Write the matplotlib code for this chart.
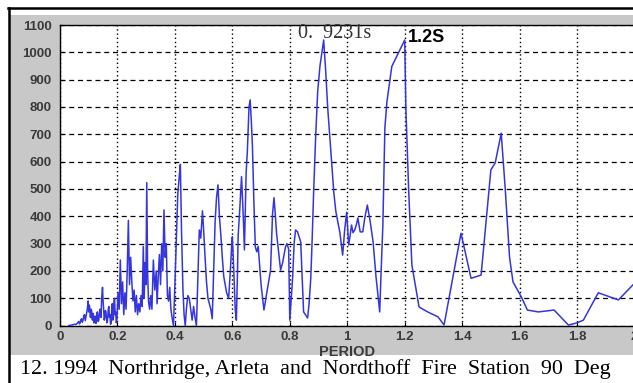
import matplotlib
matplotlib.use("Agg")
import matplotlib.pyplot as plt
from matplotlib.patches import Rectangle
from matplotlib.lines import Line2D

period = [0.030, 0.035, 0.040, 0.045, 0.050, 0.055, 0.060, 0.063, 0.065, 0.068,
          0.070, 0.072, 0.075, 0.078, 0.080, 0.083, 0.085, 0.088, 0.090, 0.093,
          0.095, 0.098, 0.100, 0.102, 0.103, 0.105, 0.106, 0.108, 0.110, 0.112,
          0.113, 0.115, 0.116, 0.118, 0.120, 0.122, 0.123, 0.125, 0.126, 0.128,
          0.130, 0.133, 0.135, 0.138, 0.140, 0.143, 0.145, 0.148, 0.150, 0.152,
          0.154, 0.156, 0.158, 0.160, 0.163, 0.165, 0.168, 0.170, 0.172, 0.174,
          0.176, 0.178, 0.180, 0.182, 0.184, 0.186, 0.188, 0.190, 0.192, 0.194,
          0.196, 0.198,
          0.202, 0.206,
          0.210, 0.214, 0.218, 0.222, 0.226, 0.230, 0.234, 0.238, 0.242, 0.246,
          0.250, 0.254, 0.258, 0.262, 0.266, 0.270, 0.274, 0.278, 0.282, 0.286,
          0.290, 0.293, 0.296, 0.299, 0.302, 0.305, 0.308, 0.312, 0.316, 0.320,
          0.325, 0.330, 0.335, 0.338, 0.342, 0.346, 0.350, 0.354, 0.358, 0.362,
          0.366, 0.370, 0.374, 0.378, 0.382, 0.386, 0.390, 0.395, 0.400, 0.405,
          0.410, 0.415, 0.419, 0.423, 0.428, 0.432, 0.436, 0.440, 0.445, 0.450,
          0.455, 0.460, 0.465, 0.470, 0.475, 0.480, 0.485, 0.490, 0.496, 0.500,
          0.505, 0.510, 0.515, 0.520, 0.525, 0.530, 0.535, 0.540, 0.545, 0.550,
          0.555, 0.560, 0.565, 0.570, 0.575, 0.580, 0.587, 0.593, 0.598, 0.600,
          0.605, 0.610, 0.614, 0.618, 0.620, 0.626, 0.632, 0.638, 0.642, 0.648,
          0.652, 0.658, 0.662, 0.666, 0.670, 0.675, 0.680, 0.685, 0.690, 0.700,
          0.710, 0.720, 0.733, 0.740, 0.745, 0.750, 0.754, 0.760, 0.768, 0.775,
          0.785, 0.790, 0.796, 0.800, 0.805, 0.810, 0.815, 0.820, 0.827, 0.834,
          0.838, 0.848, 0.862, 0.867, 0.873, 0.878, 0.883, 0.890, 0.897, 0.905,
          0.912, 0.918, 0.925, 0.932, 0.940, 0.947, 0.953, 0.960, 0.967, 0.974,
          0.984, 0.991, 0.998, 1.005, 1.010, 1.015, 1.020, 1.026, 1.032, 1.037,
          1.045, 1.054, 1.062, 1.070, 1.080, 1.090, 1.100, 1.113, 1.118, 1.124,
          1.131, 1.138, 1.155, 1.200, 1.204, 1.214, 1.225, 1.250, 1.280, 1.316,
          1.337, 1.396, 1.431, 1.466, 1.500, 1.515, 1.536, 1.550, 1.565, 1.577,
          1.606, 1.627, 1.665, 1.720, 1.770, 1.800, 1.822, 1.874, 1.944, 2.000]

response = [0, 1, 2, 3, 5, 4, 8, 12, 15, 6,
            10, 20, 25, 12, 20, 35, 40, 18, 30, 50,
            60, 90, 50, 75, 70, 40, 30, 60, 55, 25,
            20, 45, 40, 10, 15, 35, 30, 8, 10, 40,
            50, 15, 20, 55, 60, 30, 100, 140, 90, 60,
            20, 30, 55, 50, 10, 15, 60, 70, 30, 40,
            5, 10, 60, 80, 20, 30, 90, 100, 40, 50,
            10, 20,
            120, 60,
            240, 80, 160, 40, 120, 60, 200, 385, 150, 250,
            160, 90, 130, 50, 110, 40, 80, 50, 110, 70,
            290, 100, 230, 150, 523, 200, 90, 60, 110, 60,
            240, 130, 200, 80, 180, 260, 150, 300, 200, 423,
            250, 300, 110, 90, 140, 60, 30, 0, 150, 320,
            480, 545, 590, 350, 130, 40, 0, 60, 110, 100,
            60, 20, 70, 30, 0, 180, 350, 320, 420, 350,
            250, 160, 100, 80, 60, 25, 200, 380, 470, 515,
            400, 330, 250, 180, 150, 120, 100, 200, 300, 325,
            200, 60, 20, 200, 325, 430, 545, 400, 277, 560,
            632, 800, 826, 750, 655, 450, 288, 270, 290, 150,
            57, 120, 203, 410, 468, 400, 337, 280, 203, 230,
            288, 300, 280, 20, 100, 178, 300, 350, 343, 320,
            306, 50, 28, 80, 173, 320, 490, 690, 855, 950,
            1000, 1045, 930, 797, 680, 580, 490, 420, 380, 343,
            258, 350, 415, 295, 330, 368, 340, 350, 370, 394,
            343, 343, 400, 441, 380, 306, 180, 50, 200, 368,
            724, 818, 948, 1045, 797, 490, 222, 68, 50, 32,
            2, 338, 173, 185, 570, 595, 704, 500, 250, 160,
            105, 57, 50, 57, 2, 10, 20, 120, 94, 155]

assert len(period) == len(response)

xticks = [0, 0.2, 0.4, 0.6, 0.8, 1, 1.2, 1.4, 1.6, 1.8, 2]
xtick_labels = ["0", "0.2", "0.4", "0.6", "0.8", "1", "1.2", "1.4", "1.6", "1.8", "2"]
yticks = [0, 100, 200, 300, 400, 500, 600, 700, 800, 900, 1000, 1100]

W, H = 633, 383
fig = plt.figure(figsize=(W / 100, H / 100), dpi=100, facecolor="white")

# gray MATLAB-like figure panel
fig.patches.append(Rectangle((10 / W, 1 - 355 / H), (W - 10) / W, (355 - 15) / H,
                             transform=fig.transFigure, facecolor="#c8c8c8",
                             edgecolor="none", zorder=-10))
# black frame lines (top and left)
fig.add_artist(Line2D([8 / W, 1], [1 - 8 / H, 1 - 8 / H], transform=fig.transFigure,
                      color="black", lw=1.8))
fig.add_artist(Line2D([9 / W, 9 / W], [0, 1 - 8 / H], transform=fig.transFigure,
                      color="black", lw=1.8))

ax = fig.add_axes([60 / W, 1 - 325.6 / H, (634.5 - 60) / W, (325.6 - 25) / H])
ax.set_zorder(1)
ax.set_facecolor("white")
ax.plot(period, response, color="#3535e0", lw=1.1, zorder=3)

ax.set_xlim(0, 2)
ax.set_ylim(0, 1100)
ax.set_xticks(xticks)
ax.set_xticklabels(xtick_labels)
ax.set_yticks(yticks)

ax.tick_params(axis="both", direction="in", length=3, width=0.8, colors="black")
ax.tick_params(axis="y", pad=6)
ax.tick_params(axis="x", pad=4)
for lab in ax.get_xticklabels() + ax.get_yticklabels():
    lab.set_fontfamily("Liberation Sans")
    lab.set_fontsize(9.5)
    lab.set_fontweight("bold")
    lab.set_color("#3a3a3a")

ax.xaxis.grid(True, color="black", linestyle=(0, (1, 2)), lw=1.0)
ax.yaxis.grid(True, color="black", linestyle=(0, (4, 3)), lw=0.9)
ax.set_axisbelow(True)
for s in ax.spines.values():
    s.set_color("black")
    s.set_linewidth(1.0)

ax.set_xlabel("PERIOD", fontfamily="Liberation Sans", fontsize=10.5, fontweight="bold",
              color="#3a3a3a", labelpad=1)

ax.text(0.829, 1070, "0.  9231s", fontfamily="Liberation Serif", fontsize=14.5,
        color="#333333", va="center", ha="left", zorder=5)
ax.text(1.212, 1055, "1.2S", fontfamily="Liberation Sans", fontsize=13,
        fontweight="bold", color="black", va="center", ha="left", zorder=5)

fig.text(20 / W, 1 - 369 / H,
         "12. 1994  Northridge, Arleta  and  Nordthoff  Fire  Station  90  Deg",
         fontfamily="Liberation Serif", fontsize=15.8, color="black",
         va="center", ha="left")

fig.savefig("out.png", dpi=100, facecolor="white")
